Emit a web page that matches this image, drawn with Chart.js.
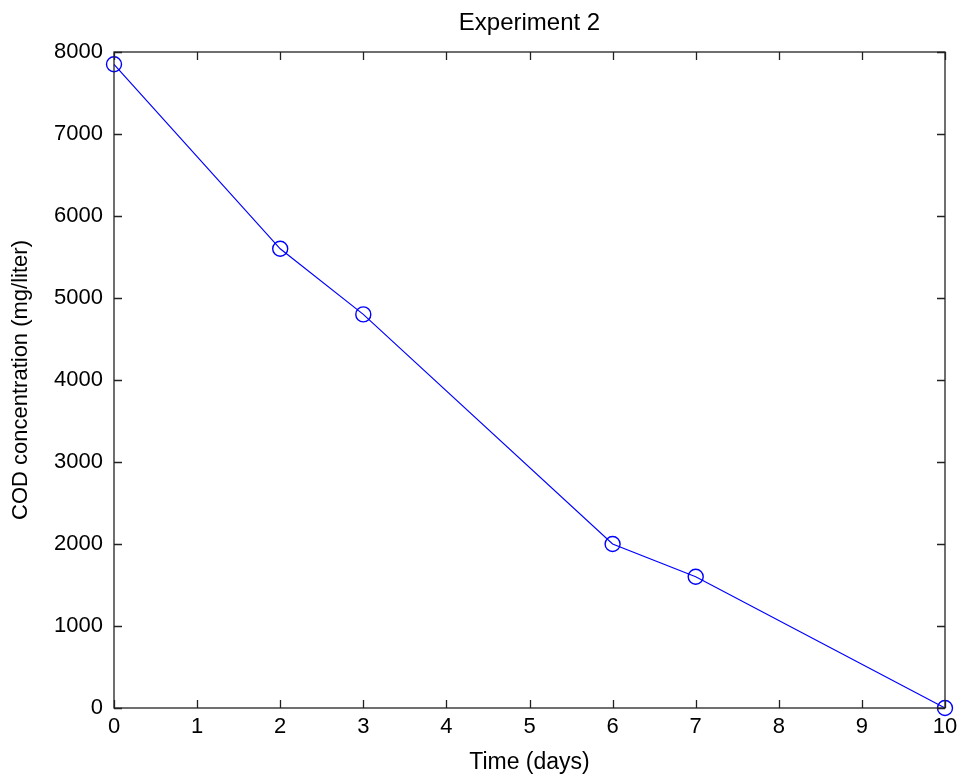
<!DOCTYPE html>
<html>
<head>
<meta charset="utf-8">
<script src="https://cdn.jsdelivr.net/npm/chart.js@4"></script>
<style>
  html, body { margin: 0; padding: 0; background: #fff; }
  #wrap { width: 958px; height: 776px; }
</style>
</head>
<body>
<div id="wrap"><canvas id="chart" width="958" height="776"></canvas></div>
<script>
  // data
  const days = [0, 2, 3, 6, 7, 10];
  const codValues = [7850, 5600, 4800, 2000, 1600, 0];
  const xTicks = [0, 1, 2, 3, 4, 5, 6, 7, 8, 9, 10];
  const yTicks = [0, 1000, 2000, 3000, 4000, 5000, 6000, 7000, 8000];
  const titleText = 'Experiment 2';

  const FONT = '"Liberation Sans", Arial, sans-serif';

  // MATLAB-like box with inward ticks on all four sides, title over the axes
  const boxTicks = {
    id: 'boxTicks',
    afterDraw: function (chart) {
      const ctx = chart.ctx;
      const a = chart.chartArea;
      const xs = chart.scales.x;
      const ys = chart.scales.y;
      const len = 8;
      ctx.save();
      ctx.strokeStyle = '#222';
      ctx.lineWidth = 1.3;
      ctx.beginPath();
      xTicks.forEach(function (v) {
        const px = Math.round(xs.getPixelForValue(v)) + 0.5;
        ctx.moveTo(px, a.bottom); ctx.lineTo(px, a.bottom - len);
        ctx.moveTo(px, a.top); ctx.lineTo(px, a.top + len);
      });
      yTicks.forEach(function (v) {
        const py = Math.round(ys.getPixelForValue(v)) + 0.5;
        ctx.moveTo(a.left, py); ctx.lineTo(a.left + len, py);
        ctx.moveTo(a.right, py); ctx.lineTo(a.right - len, py);
      });
      ctx.stroke();
      ctx.strokeRect(a.left, a.top, a.right - a.left, a.bottom - a.top);

      ctx.fillStyle = '#000';
      ctx.font = '24px ' + FONT;
      ctx.textAlign = 'center';
      ctx.textBaseline = 'middle';
      ctx.fillText(titleText, (a.left + a.right) / 2, 23);
      ctx.restore();
    }
  };

  new Chart(document.getElementById('chart'), {
    type: 'line',
    data: {
      datasets: [{
        data: days.map(function (d, i) { return { x: d, y: codValues[i] }; }),
        borderColor: '#0000ff',
        borderWidth: 1.2,
        backgroundColor: 'rgba(0,0,0,0)',
        pointStyle: 'circle',
        pointRadius: 7.5,
        pointBorderWidth: 1.4,
        pointBorderColor: '#0000ff',
        pointBackgroundColor: 'rgba(0,0,0,0)',
        tension: 0,
        clip: false
      }]
    },
    options: {
      responsive: false,
      animation: false,
      devicePixelRatio: 1,
      layout: { padding: { left: 0, right: 13, top: 52, bottom: 0 } },
      plugins: {
        legend: { display: false },
        tooltip: { enabled: false },
        title: { display: false }
      },
      scales: {
        x: {
          type: 'linear',
          min: 0,
          max: 10,
          grid: { display: false, drawTicks: false },
          border: { display: false },
          ticks: {
            stepSize: 1,
            padding: 6,
            color: '#000',
            font: { family: FONT, size: 22 }
          },
          title: {
            display: true,
            text: 'Time (days)',
            color: '#000',
            font: { family: FONT, size: 23 },
            padding: { top: 0, bottom: 0 }
          },
          afterFit: function (s) {
            s.height = 68;
            s.paddingLeft = 0;
            s.paddingRight = 0;
          }
        },
        y: {
          min: 0,
          max: 8000,
          grid: { display: false, drawTicks: false },
          border: { display: false },
          ticks: {
            stepSize: 1000,
            padding: 11,
            color: '#000',
            font: { family: FONT, size: 22 },
            callback: function (v) { return String(v); }
          },
          title: {
            display: true,
            text: 'COD concentration (mg/liter)',
            color: '#000',
            font: { family: FONT, size: 22 },
            padding: { top: 8, bottom: 0 }
          },
          afterFit: function (s) {
            s.width = 114;
            s.paddingTop = 0;
            s.paddingBottom = 0;
          }
        }
      }
    },
    plugins: [boxTicks]
  });
</script>
</body>
</html>
